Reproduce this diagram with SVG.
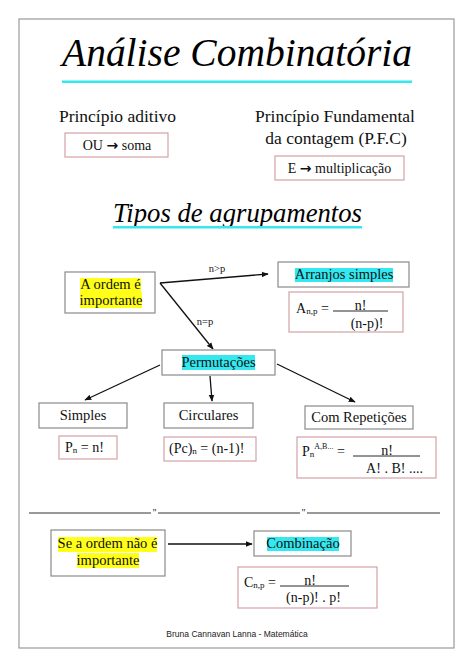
<svg xmlns="http://www.w3.org/2000/svg" width="474" height="669" viewBox="0 0 474 669">
<defs>
<style>
.s{font-family:"Liberation Serif","Times New Roman",serif;fill:#111}
.t{font-size:14.5px}
.h{font-size:17.5px}
.f{font-size:14px}
.sm{font-size:10.5px}
.sc{font-family:"Liberation Serif",serif;font-style:italic;fill:#000}
.g{fill:#fff;stroke:#8a8a8a;stroke-width:1.2}
.p{fill:#fff;stroke:#d4a0a6;stroke-width:1.2}
.y{fill:#ffff1a}
.c{fill:#33e8ef}
.ln{stroke:#111;stroke-width:1.3;fill:none}
.ul{stroke:#111;stroke-width:0.9}
.ar{font-family:"DejaVu Sans",sans-serif;font-weight:bold}
</style>
<marker id="ah" viewBox="0 0 10 10" refX="9" refY="5" markerWidth="7" markerHeight="7" orient="auto" markerUnits="userSpaceOnUse">
<path d="M0,1 L10,5 L0,9 Z" fill="#111"/>
</marker>
</defs>
<rect x="0" y="0" width="474" height="669" fill="#fff"/>
<rect x="19" y="19" width="435" height="629" fill="#fff" stroke="#999" stroke-width="1.2"/>

<g id="title">
<text class="sc" x="237" y="66" font-size="40" text-anchor="middle" textLength="350" lengthAdjust="spacingAndGlyphs">Análise Combinatória</text>
<rect x="62" y="80.5" width="350" height="2.5" fill="#33e8ef"/>
</g>

<g id="principio-aditivo">
<text class="s h" x="117.5" y="122" text-anchor="middle">Princípio aditivo</text>
<rect class="p" x="65" y="133" width="103" height="24"/>
<text class="s f" x="117" y="149.5" text-anchor="middle">OU <tspan class="ar" font-size="14">→</tspan> soma</text>
</g>

<g id="pfc">
<text class="s h" x="335" y="122" text-anchor="middle">Princípio Fundamental</text>
<text class="s h" x="336" y="144" text-anchor="middle">da contagem (P.F.C)</text>
<rect class="p" x="275" y="156" width="129" height="24"/>
<text class="s f" x="339.5" y="173" text-anchor="middle">E <tspan class="ar" font-size="14">→</tspan> multiplicação</text>
</g>

<g id="subtitle">
<text class="sc" x="237.5" y="222" font-size="28" text-anchor="middle" textLength="249" lengthAdjust="spacingAndGlyphs">Tipos de agrupamentos</text>
<rect x="113" y="226" width="249" height="2.5" fill="#33e8ef"/>
</g>

<g id="connectors">
<line class="ln" x1="160" y1="283" x2="268" y2="274" marker-end="url(#ah)"/>
<line class="ln" x1="160" y1="283" x2="213" y2="349" marker-end="url(#ah)"/>
<line class="ln" x1="160" y1="365" x2="85" y2="400" marker-end="url(#ah)"/>
<line class="ln" x1="210" y1="376" x2="212" y2="401" marker-end="url(#ah)"/>
<line class="ln" x1="277" y1="364" x2="355" y2="402" marker-end="url(#ah)"/>
<line class="ln" x1="168" y1="544" x2="252" y2="544" marker-end="url(#ah)"/>
<text class="s sm" x="217" y="272" text-anchor="middle">n&gt;p</text>
<text class="s sm" x="205" y="325" text-anchor="middle">n=p</text>
</g>

<g id="ordem-importante">
<rect class="g" x="65" y="272" width="90" height="41"/>
<rect class="y" x="80" y="278" width="61" height="14"/>
<rect class="y" x="80" y="292" width="62" height="16"/>
<text class="s t" x="110.5" y="289" text-anchor="middle">A ordem é</text>
<text class="s t" x="111" y="305" text-anchor="middle">importante</text>
</g>

<g id="arranjos">
<rect class="g" x="278" y="262" width="131" height="25"/>
<rect class="c" x="295" y="268" width="98" height="14"/>
<text class="s t" x="344" y="279" text-anchor="middle">Arranjos simples</text>
</g>

<g id="arranjos-formula">
<rect class="p" x="289" y="292" width="114" height="40"/>
<text class="s f" x="296" y="313">A<tspan font-size="9" dy="1">n,p</tspan><tspan dy="-1"> =</tspan></text>
<line class="ul" x1="333" y1="311" x2="388" y2="311"/>
<text class="s f" x="360.5" y="310" text-anchor="middle">n!</text>
<text class="s f" x="367" y="328" text-anchor="middle">(n-p)!</text>
</g>

<g id="permutacoes">
<rect class="g" x="162" y="350" width="113" height="25"/>
<rect class="c" x="182" y="355" width="73" height="15"/>
<text class="s t" x="218.5" y="367" text-anchor="middle">Permutações</text>
</g>

<g id="simples">
<rect class="g" x="39" y="403" width="88" height="25"/>
<text class="s t" x="83" y="420" text-anchor="middle">Simples</text>
</g>

<g id="simples-formula">
<rect class="p" x="59" y="436" width="58" height="23"/>
<text class="s f" x="65" y="452">P<tspan font-size="9" dy="1">n</tspan><tspan dy="-1"> = n!</tspan></text>
</g>

<g id="circulares">
<rect class="g" x="164" y="403" width="89" height="25"/>
<text class="s t" x="208.5" y="420" text-anchor="middle">Circulares</text>
</g>

<g id="circulares-formula">
<rect class="p" x="164" y="437" width="92" height="24"/>
<text class="s f" x="169" y="453">(Pc)<tspan font-size="9" dy="1">n</tspan><tspan dy="-1"> = (n-1)!</tspan></text>
</g>

<g id="repeticoes">
<rect class="g" x="305" y="406" width="108" height="23"/>
<text class="s t" x="359" y="422" text-anchor="middle">Com Repetições</text>
</g>

<g id="repeticoes-formula">
<rect class="p" x="297" y="437" width="139" height="41"/>
<text class="s f" x="302" y="456">P<tspan font-size="9" dy="1">n</tspan><tspan font-size="8" dy="-8">A,B...</tspan><tspan dy="7"> =</tspan></text>
<line class="ul" x1="353" y1="456" x2="420" y2="456"/>
<text class="s f" x="387" y="455" text-anchor="middle">n!</text>
<text class="s f" x="394.5" y="473" text-anchor="middle">A! . B! ....</text>
</g>

<g id="separator">
<line x1="29" y1="513" x2="151" y2="513" stroke="#333" stroke-width="1"/>
<line x1="158" y1="513" x2="300" y2="513" stroke="#333" stroke-width="1"/>
<line x1="307" y1="513" x2="440" y2="513" stroke="#333" stroke-width="1"/>
<text class="s" x="154.5" y="516" font-size="10" text-anchor="middle">''</text>
<text class="s" x="303.5" y="516" font-size="10" text-anchor="middle">''</text>
</g>

<g id="nao-importante">
<rect class="g" x="51" y="530" width="114" height="46"/>
<rect class="y" x="58" y="537" width="99" height="15"/>
<rect class="y" x="77" y="553" width="62" height="15"/>
<text class="s t" x="107.5" y="548" text-anchor="middle">Se a ordem não é</text>
<text class="s t" x="108" y="565" text-anchor="middle">importante</text>
</g>

<g id="combinacao">
<rect class="g" x="254" y="531" width="97" height="25"/>
<rect class="c" x="267" y="537" width="72" height="14"/>
<text class="s t" x="303" y="548" text-anchor="middle">Combinação</text>
</g>

<g id="combinacao-formula">
<rect class="p" x="238" y="567" width="139" height="41"/>
<text class="s f" x="244" y="587">C<tspan font-size="9" dy="1">n,p</tspan><tspan dy="-1"> =</tspan></text>
<line class="ul" x1="280" y1="586" x2="349" y2="586"/>
<text class="s f" x="310" y="585" text-anchor="middle">n!</text>
<text class="s f" x="313.5" y="602" text-anchor="middle">(n-p)! . p!</text>
</g>

<g id="footer">
<text x="237" y="637" font-family="Liberation Sans, Arial, sans-serif" font-size="8.5" fill="#222" text-anchor="middle">Bruna Cannavan Lanna - Matemática</text>
</g>
</svg>
